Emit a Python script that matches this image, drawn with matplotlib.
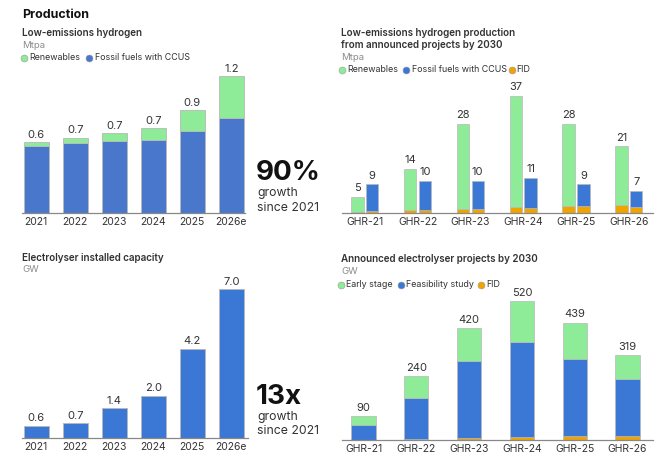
import matplotlib
matplotlib.use("Agg")
import matplotlib.pyplot as plt
from matplotlib.lines import Line2D
import numpy as np

plt.rcParams['font.family'] = ['Inter', 'DejaVu Sans']

# data
years = ["2021", "2022", "2023", "2024", "2025", "2026e"]
prod_fossil = [0.59, 0.61, 0.63, 0.64, 0.72, 0.83]
prod_renew = [0.03, 0.05, 0.07, 0.10, 0.18, 0.37]

scen = ["GHR-21", "GHR-22", "GHR-23", "GHR-24", "GHR-25", "GHR-26"]
proj_renew = [5, 14, 28, 37, 28, 21]
proj_renew_fid = [0.3, 1.0, 1.3, 2.0, 2.2, 2.6]
proj_fossil = [9, 10, 10, 11, 9, 7]
proj_fossil_fid = [0.5, 1.0, 1.3, 1.5, 2.1, 2.0]

elec_cap = [0.6, 0.7, 1.4, 2.0, 4.2, 7.0]

elec_total = [90, 240, 420, 520, 439, 319]
elec_early = [32, 82, 123, 153, 134, 92]
elec_fid = [2, 5, 8, 13, 17, 17]

GREEN = "#8EEB98"
BLUE1 = "#4877CB"
BLUE2 = "#3B77D4"
ORANGE = "#F0A400"
EDGE = "#B8B8B8"
DARK = "#333333"
GREY = "#8C8C8C"

SUB = 7.1   # subtitle size
LEG = 6.4   # legend size
UNIT = 6.9  # unit line
VAL = 8.0   # value labels
TICK = 7.5

W, H = 665, 472
fig = plt.figure(figsize=(W / 100, H / 100), dpi=100)


def txt(x, y, s, **kw):
    kw.setdefault("va", "center")
    kw.setdefault("color", DARK)
    fig.text(x / W, 1 - y / H, s, **kw)


def dot(x, y, c):
    fig.add_artist(Line2D([x / W], [1 - y / H], marker="o", ms=5, color=c,
                          mec="#999999", mew=0.4, transform=fig.transFigure))


def make_ax(x0, x1, base, top, c0, step, scale):
    # x0/x1 pixel extents, c0 pixel centre of first group, step pixels per group
    ax = fig.add_axes([x0 / W, 1 - base / H, (x1 - x0) / W, (base - top) / H])
    ax.set_xlim((x0 - c0) / step, (x1 - c0) / step)
    ax.set_ylim(0, (base - top) / scale)
    for s in ["top", "right", "left"]:
        ax.spines[s].set_visible(False)
    ax.spines["bottom"].set_color("#888888")
    ax.spines["bottom"].set_linewidth(0.9)
    ax.set_yticks([])
    ax.tick_params(axis="x", length=0, labelsize=TICK, labelcolor=DARK, pad=3)
    return ax


# ---- top-left: production
txt(22, 15, "Production", fontsize=9, fontweight="bold", color="#111111")
txt(22, 33, "Low-emissions hydrogen", fontsize=SUB, fontweight="semibold")
txt(22, 45, "Mtpa", fontsize=UNIT, color=GREY)
dot(24, 58, GREEN)
txt(29, 58, "Renewables", fontsize=LEG)
dot(89, 58, BLUE1)
txt(95, 58, "Fossil fuels with CCUS", fontsize=LEG)

ax1 = make_ax(21.7, 245, 213, 62, 36.3, 39, 114.2)
x = np.arange(len(years))
ax1.bar(x, prod_fossil, 0.64, color=BLUE1, edgecolor=EDGE, lw=0.6)
ax1.bar(x, prod_renew, 0.64, bottom=prod_fossil, color=GREEN, edgecolor=EDGE, lw=0.6)
for i, (f, r) in enumerate(zip(prod_fossil, prod_renew)):
    ax1.text(i, f + r + 0.02, "%.1f" % (f + r), ha="center", va="bottom",
             fontsize=VAL, color=DARK)
ax1.set_xticks(x, years)

txt(256, 173, "90%", fontsize=20, fontweight="bold", color="#111111")
txt(257, 193, "growth", fontsize=8.8)
txt(257, 208, "since 2021", fontsize=8.8)

# ---- top-right: announced projects production
txt(341, 33, "Low-emissions hydrogen production", fontsize=SUB, fontweight="semibold")
txt(341, 45, "from announced projects by 2030", fontsize=SUB, fontweight="semibold")
txt(341, 58, "Mtpa", fontsize=UNIT, color=GREY)
dot(341.7, 70, GREEN)
txt(347, 70, "Renewables", fontsize=LEG)
dot(406, 70, BLUE2)
txt(411.5, 70, "Fossil fuels with CCUS", fontsize=LEG)
dot(511.7, 70, ORANGE)
txt(516.5, 70, "FID", fontsize=LEG)

ax2 = make_ax(341.7, 653, 213, 78, 364.8, 52.8, 3.17)
x = np.arange(len(scen))
bw, off = 0.235, 0.139
ren_rest = [t - f for t, f in zip(proj_renew, proj_renew_fid)]
fos_rest = [t - f for t, f in zip(proj_fossil, proj_fossil_fid)]
ax2.bar(x - off, proj_renew_fid, bw, color=ORANGE, edgecolor=EDGE, lw=0.5)
ax2.bar(x - off, ren_rest, bw, bottom=proj_renew_fid, color=GREEN, edgecolor=EDGE, lw=0.5)
ax2.bar(x + off, proj_fossil_fid, bw, color=ORANGE, edgecolor=EDGE, lw=0.5)
ax2.bar(x + off, fos_rest, bw, bottom=proj_fossil_fid, color=BLUE2, edgecolor=EDGE, lw=0.5)
for i in range(len(scen)):
    ax2.text(i - off, proj_renew[i] + 1.2, str(proj_renew[i]), ha="center",
             va="bottom", fontsize=VAL, color=DARK)
    ax2.text(i + off, proj_fossil[i] + 1.2, str(proj_fossil[i]), ha="center",
             va="bottom", fontsize=VAL, color=DARK)
ax2.set_xticks(x, scen)

# ---- bottom-left: electrolyser capacity
txt(22, 258, "Electrolyser installed capacity", fontsize=SUB, fontweight="semibold")
txt(22, 270, "GW", fontsize=UNIT, color=GREY)

ax3 = make_ax(21.7, 248, 438.3, 280, 36.3, 39, 21.3)
x = np.arange(len(years))
ax3.bar(x, elec_cap, 0.64, color=BLUE2, edgecolor=EDGE, lw=0.6)
for i, v in enumerate(elec_cap):
    ax3.text(i, v + 0.12, "%.1f" % v, ha="center", va="bottom", fontsize=VAL, color=DARK)
ax3.set_xticks(x, years)

txt(256, 397, "13x", fontsize=20, fontweight="bold", color="#111111")
txt(257, 417, "growth", fontsize=8.8)
txt(257, 431, "since 2021", fontsize=8.8)

# ---- bottom-right: announced electrolyser projects
txt(341, 259, "Announced electrolyser projects by 2030", fontsize=SUB, fontweight="semibold")
txt(341, 272, "GW", fontsize=UNIT, color=GREY)
dot(341, 284.5, GREEN)
txt(346.5, 284.5, "Early stage", fontsize=LEG)
dot(400.7, 284.5, BLUE2)
txt(406, 284.5, "Feasibility study", fontsize=LEG)
dot(480.7, 284.5, ORANGE)
txt(486, 284.5, "FID", fontsize=LEG)

ax4 = make_ax(341.7, 653, 440.3, 292, 363.5, 52.8, 0.268)
x = np.arange(len(scen))
feas = [t - e - f for t, e, f in zip(elec_total, elec_early, elec_fid)]
bot2 = [f + s for f, s in zip(elec_fid, feas)]
ax4.bar(x, elec_fid, 0.46, color=ORANGE, edgecolor=EDGE, lw=0.5)
ax4.bar(x, feas, 0.46, bottom=elec_fid, color=BLUE2, edgecolor=EDGE, lw=0.5)
ax4.bar(x, elec_early, 0.46, bottom=bot2, color=GREEN, edgecolor=EDGE, lw=0.5)
for i, v in enumerate(elec_total):
    ax4.text(i, v + 12, str(v), ha="center", va="bottom", fontsize=VAL, color=DARK)
ax4.set_xticks(x, scen)

fig.savefig("out.png", dpi=100)
